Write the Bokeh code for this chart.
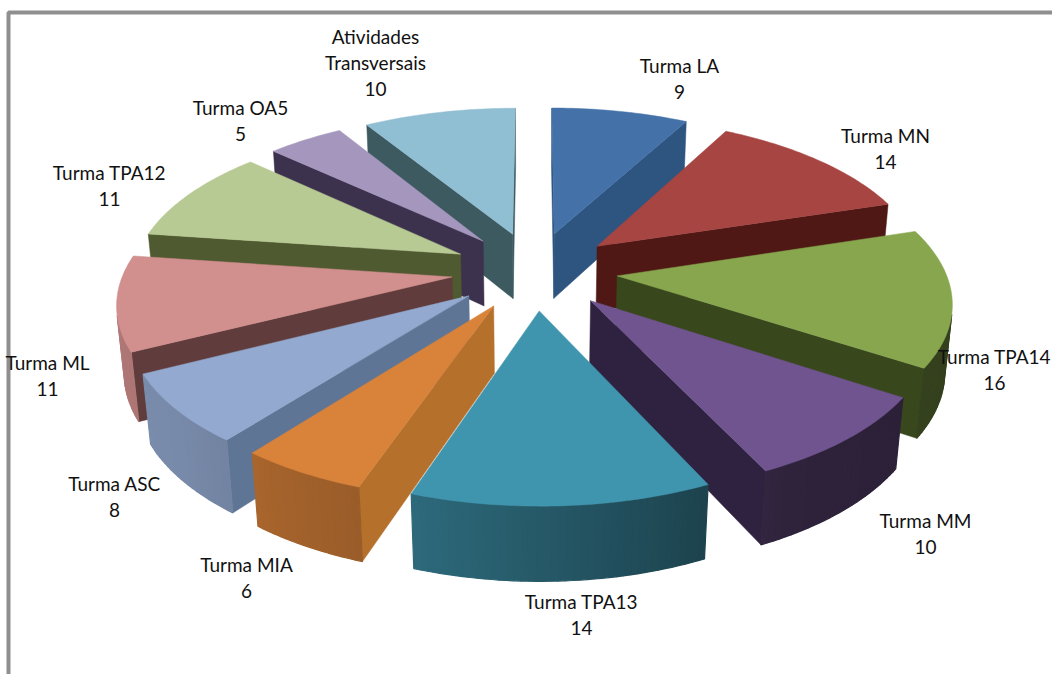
import numpy as np
from bokeh.plotting import figure
from bokeh.core.properties import value
from bokeh.embed import file_html
from bokeh.resources import INLINE

# ---- data ----
categories = ["Turma LA", "Turma MN", "Turma TPA14", "Turma MM", "Turma TPA13", "Turma MIA",
              "Turma ASC", "Turma ML", "Turma TPA12", "Turma OA5", "Atividades\nTransversais"]
values = [9, 14, 16, 10, 14, 6, 8, 11, 11, 5, 10]

# ---- style ----
top_colors = ["#4472a8", "#a64542", "#87a64e", "#70548f", "#4095ae", "#d8823a",
              "#93a9cf", "#d18f8e", "#b8ca93", "#a596bd", "#90bed2"]
wall_colors = ["#2e5480", "#4f1815", "#38471c", "#2e2240", "#2a7088", "#b5702c",
               "#5f7595", "#603c3c", "#4f5a30", "#3c324e", "#3c5a60"]
# centre x and first-line y of each label (page pixels)
label_pos = [(679, 65), (885, 135), (994, 356), (925, 520), (581, 601), (246, 564),
             (114, 483), (47, 362), (109, 172), (240, 107), (375, 36)]
LINE_H = 26

# ---- camera ----
CX, CY = 534.0, 270.0
R, EXPLODE, H = 328.0, 83.0, 76.0
TILT = np.radians(28)
D = 2000.0


def project(X, Y, Z):
    d = D + Y * np.cos(TILT) - Z * np.sin(TILT)
    return CX + D * X / d, CY - D * (Y * np.sin(TILT) + Z * np.cos(TILT)) / d


def shade(hexcol, f):
    rgb = [int(hexcol[i:i + 2], 16) for i in (1, 3, 5)]
    return "#%02x%02x%02x" % tuple(int(min(255, c * f)) for c in rgb)


def area(xs, ys):
    return 0.5 * sum(xs[i] * ys[(i + 1) % len(xs)] - xs[(i + 1) % len(xs)] * ys[i] for i in range(len(xs)))


p = figure(width=1052, height=674, x_range=(0, 1052), y_range=(674, 0),
           output_backend="svg", toolbar_location=None, min_border=0,
           outline_line_color=None, background_fill_color="white")
p.axis.visible = False
p.grid.visible = False

# frame of the picture
p.line([8, 8, 1052], [674, 12, 12], line_color="#8f8f8f", line_width=4)

total = sum(values)
edges = np.cumsum([0] + values) / total * 2 * np.pi
mids = (edges[:-1] + edges[1:]) / 2

for i in np.argsort(-np.cos(mids)):
    t0, t1, mid = edges[i], edges[i + 1], mids[i]
    ox, oy = EXPLODE * np.sin(mid), EXPLODE * np.cos(mid)
    ts = np.linspace(t0, t1, max(8, int(values[i] * 3)))
    ax = ox + R * np.sin(ts)
    ay = oy + R * np.cos(ts)

    # radial walls (drawn only when they face the camera)
    for sign, wx, wy in ((-1, ax[0], ay[0]), (1, ax[-1], ay[-1])):
        xa, ya = project(np.array([ox, wx, wx, ox]), np.array([oy, wy, wy, oy]), np.array([0, 0, -H, -H]))
        if sign * area(xa, ya) > 0:
            p.patch(xa, ya, fill_color=wall_colors[i], line_color=wall_colors[i], line_width=0.5)

    # outer curved wall, in strips so that the shading changes along it
    for k in range(len(ts) - 1):
        xa, ya = project(np.array([ax[k], ax[k + 1], ax[k + 1], ax[k]]),
                         np.array([ay[k], ay[k + 1], ay[k + 1], ay[k]]), np.array([0, 0, -H, -H]))
        if area(xa, ya) > 0:
            continue
        phi = np.degrees((ts[k] + ts[k + 1]) / 2)
        f = np.interp(phi, [90, 130, 150, 200, 230, 270], [0.38, 0.4, 0.42, 0.72, 0.82, 0.85])
        col = shade(top_colors[i], f)
        p.patch(xa, ya, fill_color=col, line_color=col, line_width=1.2)

    # top face
    xa, ya = project(np.r_[ox, ax], np.r_[oy, ay], np.zeros(len(ax) + 1))
    p.patch(xa, ya, fill_color=top_colors[i], line_color=top_colors[i], line_width=0.5)

# labels
tx, ty, tt = [], [], []
for cat, v, (lx, ly) in zip(categories, values, label_pos):
    for j, line in enumerate(cat.split("\n") + [str(v)]):
        tx.append(lx)
        ty.append(ly + j * LINE_H)
        tt.append(line)
p.text(tx, ty, text=tt, text_font=value("Lato"), text_font_size="19px", text_color="#111111",
       text_align="center", text_baseline="middle")

open("out.html", "w").write(file_html(p, INLINE))
